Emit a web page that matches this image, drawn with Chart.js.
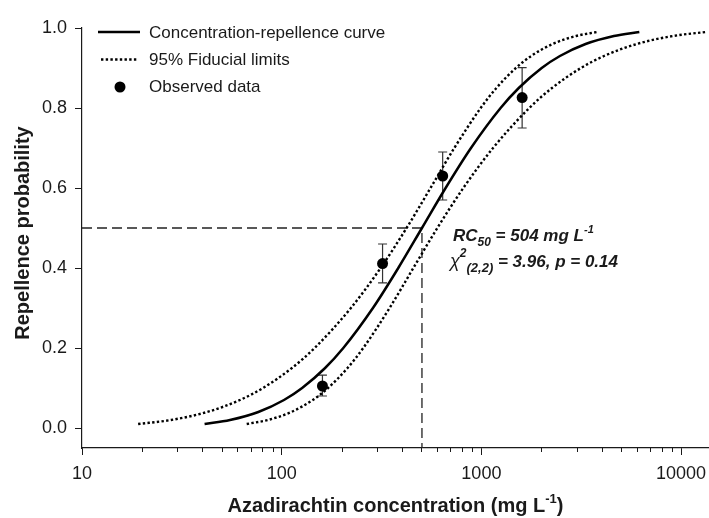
<!DOCTYPE html>
<html><head><meta charset="utf-8">
<script src="https://cdn.jsdelivr.net/npm/chart.js@4.4.1/dist/chart.umd.min.js"></script>
<style>html,body{margin:0;padding:0;background:#fff;}canvas{display:block;}</style>
</head><body>
<canvas id="c" width="709" height="518"></canvas>
<script>
// ---- data ----
const probLevels = [0.01,0.02,0.04,0.07,0.10,0.15,0.20,0.30,0.40,0.50,0.60,0.70,0.80,0.85,0.90,0.93,0.96,0.98,0.99];
const curveDose = [41.1,55.1,76.4,102.7,126.6,165.0,203.5,286.4,383.6,504,662,887,1248,1539,2005,2474,3325,4610,6180];
const lowerLimitDose = [19.1,27.9,42.3,61.8,80.6,112.5,146.2,222.1,312.8,422.1,556.4,732,992,1189,1488,1775,2274,2982,3800];
const upperLimitDose = [66.8,85.2,111.7,143.1,170.7,213.7,256.1,347.0,456.5,601.7,812,1144,1738,2257,3151,4111,6000,9115,13280];
const obsDose = [160,320,640,1600];
const obsProb = [0.105,0.411,0.630,0.826];
const obsLow  = [0.080,0.363,0.570,0.750];
const obsHigh = [0.132,0.460,0.690,0.901];
const rc50 = 504;
const xTickValues = [10,100,1000,10000];
const xTickLabels = ['10','100','1000','10000'];
const xMinorTicks = [20,30,40,50,60,70,80,90,200,300,400,500,600,700,800,900,2000,3000,4000,5000,6000,7000,8000,9000];
const yTickValues = [0,0.2,0.4,0.6,0.8,1.0];
const seriesLabels = ['Concentration-repellence curve','95% Fiducial limits','Observed data'];

const FONT = '"Liberation Sans", Arial, sans-serif';
const INK = '#1a1a1a';

const pts = (xs, ys) => xs.map((x,i)=>({x:x, y:ys[i]}));

function drawRuns(ctx, x, y, parts){
  for (const [t,f,dy] of parts){ ctx.font = f; ctx.fillText(t, x, y+dy); x += ctx.measureText(t).width; }
  return x;
}
function measureRuns(ctx, parts){
  let w=0; for (const [t,f] of parts){ ctx.font=f; w+=ctx.measureText(t).width; } return w;
}

const overlay = {
  id:'overlay',
  beforeDatasetsDraw(chart){
    const ctx = chart.ctx, xs = chart.scales.x, ys = chart.scales.y;
    ctx.save();
    ctx.strokeStyle = '#333'; ctx.lineWidth = 1.2;
    obsDose.forEach((d,i)=>{
      const px = xs.getPixelForValue(d);
      const y1 = ys.getPixelForValue(obsLow[i]), y2 = ys.getPixelForValue(obsHigh[i]);
      ctx.beginPath();
      ctx.moveTo(px, y1); ctx.lineTo(px, y2);
      ctx.moveTo(px-4.5, y1); ctx.lineTo(px+4.5, y1);
      ctx.moveTo(px-4.5, y2); ctx.lineTo(px+4.5, y2);
      ctx.stroke();
    });
    ctx.restore();
  },
  afterDraw(chart){
    const ctx = chart.ctx, xs = chart.scales.x, ys = chart.scales.y, ca = chart.chartArea;
    ctx.save();
    // minor ticks
    ctx.strokeStyle = INK; ctx.lineWidth = 1;
    xMinorTicks.forEach(v=>{
      const px = Math.round(xs.getPixelForValue(v))+0.5;
      ctx.beginPath(); ctx.moveTo(px, ca.bottom); ctx.lineTo(px, ca.bottom+4); ctx.stroke();
    });
    // legend
    ctx.fillStyle = INK; ctx.textBaseline = 'alphabetic'; ctx.textAlign = 'left';
    ctx.font = '17px ' + FONT;
    const rows = [37.5, 65, 92];
    ctx.strokeStyle = '#000'; ctx.lineWidth = 2.5; ctx.setLineDash([]);
    ctx.beginPath(); ctx.moveTo(98, rows[0]-5.5); ctx.lineTo(140, rows[0]-5.5); ctx.stroke();
    ctx.lineWidth = 2.4; ctx.setLineDash([2.4,2.3]);
    ctx.beginPath(); ctx.moveTo(101, rows[1]-5.5); ctx.lineTo(137, rows[1]-5.5); ctx.stroke();
    ctx.setLineDash([]);
    ctx.fillStyle = '#000';
    ctx.beginPath(); ctx.arc(120, rows[2]-5, 5.5, 0, Math.PI*2); ctx.fill();
    ctx.fillStyle = INK;
    seriesLabels.forEach((t,i)=>ctx.fillText(t, 149, rows[i]));
    // annotation
    const BI = s => 'italic bold ' + s + 'px ' + FONT;
    drawRuns(ctx, 453, 241, [['RC',BI(17),0],['50',BI(12),5],[' = 504 mg L',BI(17),0],['-1',BI(11),-8]]);
    drawRuns(ctx, 450, 267, [['\u03C7','italic 18px ' + FONT,0],['2',BI(12),-10],['(2,2)',BI(13),5],[' = 3.96, p = 0.14',BI(17),0]]);
    // x title
    const B = s => 'bold ' + s + 'px ' + FONT;
    const xt = [['Azadirachtin concentration (mg L',B(20),0],['-1',B(13),-9],[')',B(20),0]];
    const w = measureRuns(ctx, xt);
    drawRuns(ctx, (ca.left+ca.right)/2 - w/2, 512, xt);
    // y title
    ctx.save();
    ctx.translate(29, 233); ctx.rotate(-Math.PI/2);
    ctx.font = B(20); ctx.textAlign = 'center';
    ctx.fillText('Repellence probability', 0, 0);
    ctx.restore();
    ctx.restore();
  }
};

new Chart(document.getElementById('c'), {
  type: 'scatter',
  data: {
    datasets: [
      { label: seriesLabels[0], data: pts(curveDose, probLevels), showLine: true, borderColor: '#000', borderWidth: 2.5, pointRadius: 0, cubicInterpolationMode: 'monotone' },
      { label: seriesLabels[1], data: pts(lowerLimitDose, probLevels), showLine: true, borderColor: '#000', borderWidth: 2.4, borderDash: [2.4,2.3], pointRadius: 0, cubicInterpolationMode: 'monotone' },
      { label: seriesLabels[1], data: pts(upperLimitDose, probLevels), showLine: true, borderColor: '#000', borderWidth: 2.4, borderDash: [2.4,2.3], pointRadius: 0, cubicInterpolationMode: 'monotone' },
      { label: 'RC50', data: [{x:xTickValues[0], y:0.5},{x:rc50, y:0.5},{x:rc50, y:-0.05}], showLine: true, borderColor: '#222', borderWidth: 1.3, borderDash: [10,5], pointRadius: 0, tension: 0 },
      { label: seriesLabels[2], data: pts(obsDose, obsProb), showLine: false, pointRadius: 5.5, pointBackgroundColor: '#000', pointBorderColor: '#000', pointBorderWidth: 0 }
    ]
  },
  options: {
    responsive: false, animation: false, devicePixelRatio: 1,
    layout: { autoPadding: false, padding: { top: 28, left: 0, right: 0, bottom: 0 } },
    plugins: { legend: { display: false }, tooltip: { enabled: false } },
    scales: {
      x: {
        type: 'logarithmic', min: 10, max: 13800,
        afterBuildTicks: s => { s.ticks = xTickValues.map(v=>({value:v, major:true})); },
        afterFit: s => { s.height = 70; s.paddingLeft = 0; s.paddingRight = 0; },
        ticks: { autoSkip: false, maxRotation: 0, padding: 8, color: INK, font: { family: FONT, size: 18 },
                 callback: (v) => { const i = xTickValues.indexOf(v); return i>=0 ? xTickLabels[i] : ''; } },
        grid: { drawOnChartArea: false, drawTicks: true, tickLength: 7, color: INK, tickWidth: 1 },
        border: { display: true, color: INK, width: 1.2 },
        title: { display: false }
      },
      y: {
        min: -0.05, max: 1.0,
        afterBuildTicks: s => { s.ticks = yTickValues.map(v=>({value:v})); },
        afterFit: s => { s.width = 82; s.paddingTop = 0; s.paddingBottom = 0; },
        ticks: { autoSkip: false, padding: 8, color: INK, font: { family: FONT, size: 18 }, callback: v => Number(v).toFixed(1) },
        grid: { drawOnChartArea: false, drawTicks: true, tickLength: 7, color: INK, tickWidth: 1 },
        border: { display: true, color: INK, width: 1.2 },
        title: { display: false }
      }
    }
  },
  plugins: [overlay]
});
</script>
</body></html>
